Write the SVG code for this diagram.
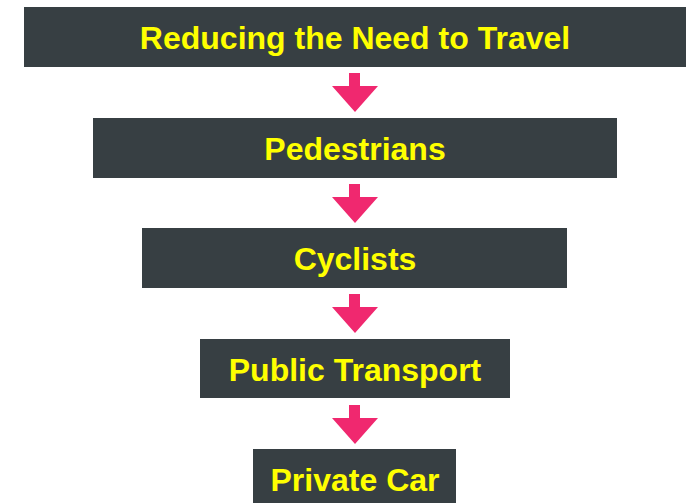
<svg xmlns="http://www.w3.org/2000/svg" width="691" height="503" viewBox="0 0 691 503">
<defs>
<style>
.box{fill:#373f43}
.lbl{fill:#ffff00;font-family:"Liberation Sans",Arial,sans-serif;font-weight:bold;font-size:32px;text-anchor:middle}
.arr{fill:#f0286f}
</style>
<path id="arrow" d="M-6,0 H5 V13 H23 L0,39 L-23,13 H-6 Z"/>
</defs>
<rect width="691" height="503" fill="#ffffff"/>
<g id="n1"><rect class="box" x="24" y="7" width="662" height="60"/><text class="lbl" x="355" y="48.5">Reducing the Need to Travel</text></g>
<g id="n2"><rect class="box" x="93" y="118" width="524" height="60"/><text class="lbl" x="355" y="159.5">Pedestrians</text></g>
<g id="n3"><rect class="box" x="142" y="228" width="425" height="60"/><text class="lbl" x="355" y="269.5">Cyclists</text></g>
<g id="n4"><rect class="box" x="200" y="339" width="310" height="59"/><text class="lbl" x="355" y="380.5">Public Transport</text></g>
<g id="n5"><rect class="box" x="253" y="449" width="203" height="60"/><text class="lbl" x="355" y="490.5">Private Car</text></g>
<g id="connectors">
<use href="#arrow" class="arr" x="355" y="73"/>
<use href="#arrow" class="arr" x="355" y="184"/>
<use href="#arrow" class="arr" x="355" y="294"/>
<use href="#arrow" class="arr" x="355" y="405"/>
</g>
</svg>
